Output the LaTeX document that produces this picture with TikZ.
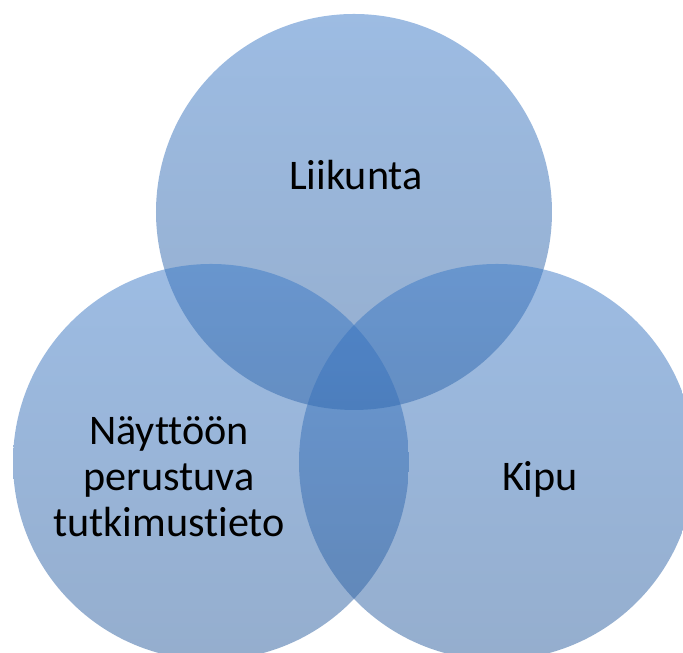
\documentclass[tikz,border=0pt]{standalone}
\usepackage{fontspec}
\setmainfont[Ligatures=NoCommon]{Carlito}
\definecolor{venntop}{RGB}{59,121,199}
\definecolor{vennbot}{RGB}{43,93,157}
\tikzset{
  venn/.style={top color=venntop, bottom color=vennbot, fill opacity=0.5, draw=none},
  label/.style={font=\fontsize{12pt}{13.1pt}\selectfont, text=black, inner sep=0pt}
}

\begin{document}
\begin{tikzpicture}
        % rajat
        \useasboundingbox (0,0) rectangle (6.83,6.53);
        \clip (0,0) rectangle (6.83,6.53);

        % ympyrät
        \path[venn] (3.54,4.41) circle (1.98);
        \path[venn] (2.11,1.91) circle (1.98);
        \path[venn] (4.97,1.91) circle (1.98);

        % tekstit
        \node[label, anchor=base] (liikunta) at (3.56,4.63) {Liikunta};
        \node[label, align=center] (naytto) at (1.69,1.76) {Näyttöön\\perustuva\\tutkimustieto};
        \node[label, anchor=base] (kipu) at (5.40,1.62) {Kipu};
    \end{tikzpicture}
\end{document}
